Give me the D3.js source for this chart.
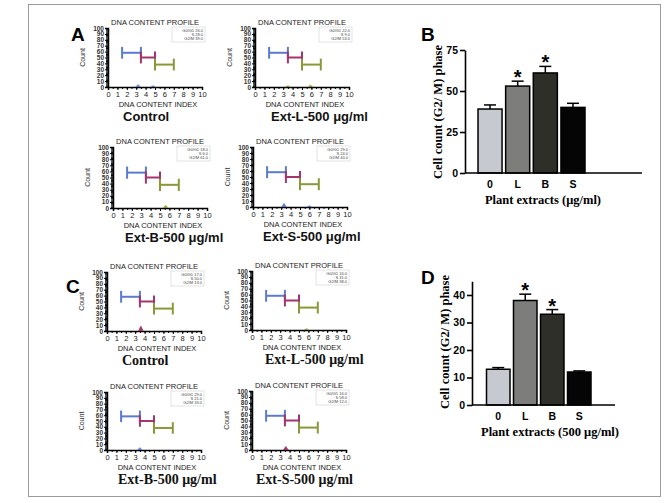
<!DOCTYPE html>
<html><head><meta charset="utf-8">
<script src="https://cdn.jsdelivr.net/npm/d3@7"></script>
<style>body{margin:0;background:#fff}svg{display:block}</style>
</head><body>
<script>
// ---------- data ----------
const phaseNames = ["G0/G1", "S", "G2/M"];
const captions = ["Control", "Ext-L-500  \u03bcg/ml", "Ext-B-500  \u03bcg/ml", "Ext-S-500  \u03bcg/ml",
                  "Control", "Ext-L-500  \u03bcg/ml", "Ext-B-500  \u03bcg/ml", "Ext-S-500  \u03bcg/ml"];
const g0g1Pct = [26, 22, 18, 29, 17, 16, 29, 16];
const sPct    = [28, 9, 6, 24, 50, 31, 21, 58];
const g2mPct  = [39, 53, 61, 40, 13, 38, 33, 12];
const markerStart = [1.5, 3.5, 5];
const markerEnd   = [3.5, 5, 7];
const markerLevel = [58, 50, 38];
const blipX = [[3.2, 4.8], [3.5, 5.9], [5.6], [3.3, 6.0], [3.6], [5.8], [3.5], [3.6]];
const blipH = [[4, 2], [2, 3], [4], [6, 2], [8], [2], [4], [6]];
const histXTicks = [0,1,2,3,4,5,6,7,8,9,10];
const histYTicks = [0,10,20,30,40,50,60,70,80,90,100];

const barCats = ["0", "L", "B", "S"];
const bValues = [39, 53, 61, 40];
const bErrors = [2.5, 3, 4, 2.5];
const dValues = [13, 38, 33, 12];
const dErrors = [0.6, 2.3, 1.7, 0.4];
const bTicks = [0, 25, 50, 75];
const dTicks = [0, 10, 20, 30, 40];
const significant = [false, true, true, false];

// ---------- setup ----------
const W = 666, H = 503;
const svg = d3.select("body").append("svg").attr("width", W).attr("height", H);
const SANS = "Liberation Sans, Arial, sans-serif";
const SERIF = "Liberation Serif, Times New Roman, serif";
svg.append("rect").attr("x", 28.5).attr("y", 4.5).attr("width", 632).attr("height", 492)
  .attr("fill", "none").attr("stroke", "#9a9a9a").attr("stroke-width", 1);

const markerColors = ["#5a7bd0", "#a2356c", "#8a9838"];
const blipColors = ["#5a7bd0", "#8a9838", "#8a9838", "#5a7bd0", "#a2356c", "#8a9838", "#5a7bd0", "#a2356c"];

// layout for small histogram panels
const smallLayout = [
  {x0:108, top:28,  bottom:87,  capX:123, serif:false},
  {x0:255, top:28,  bottom:87,  capX:271, serif:false},
  {x0:113, top:147, bottom:208, capX:125, serif:false},
  {x0:253, top:147, bottom:207, capX:263, serif:false},
  {x0:107, top:272, bottom:331, capX:122, serif:true},
  {x0:252, top:271, bottom:330, capX:265, serif:true},
  {x0:107, top:392, bottom:450, capX:118, serif:true},
  {x0:252, top:391, bottom:450, capX:256, serif:true}
];

smallLayout.forEach((L, i) => {
  const g = svg.append("g");
  const x = d3.scaleLinear().domain([0, 10]).range([L.x0, L.x0 + 94]);
  const y = d3.scaleLinear().domain([0, 100]).range([L.bottom, L.top]);

  // legend box
  g.append("rect").attr("x", x(10) - 30).attr("y", L.top - 1).attr("width", 33).attr("height", 15)
    .attr("fill", "#fff").attr("stroke", "#d0d0d0").attr("stroke-width", 0.6);
  const vals = [g0g1Pct[i], sPct[i], g2mPct[i]];
  phaseNames.forEach((p, k) => {
    g.append("text").attr("x", x(10) + 1).attr("y", L.top + 3.5 + k * 4)
      .attr("text-anchor", "end").attr("font-family", SANS).attr("font-size", 4)
      .attr("fill", "#444").text(p + " " + vals[k].toFixed(1));
  });

  // minor ticks
  const minorY = d3.axisLeft(y).tickValues(d3.range(0, 101, 2)).tickSize(2).tickFormat("");
  const gy2 = g.append("g").attr("transform", `translate(${L.x0},0)`).call(minorY);
  gy2.select(".domain").remove();
  const minorX = d3.axisBottom(x).tickValues(d3.range(0, 10.01, 0.5)).tickSize(2).tickFormat("");
  const gx2 = g.append("g").attr("transform", `translate(0,${L.bottom})`).call(minorX);
  gx2.select(".domain").remove();

  const ay = d3.axisLeft(y).tickValues(histYTicks).tickSize(3).tickPadding(1);
  const gy = g.append("g").attr("transform", `translate(${L.x0},0)`).call(ay);
  gy.selectAll("text").attr("font-family", SANS).attr("font-size", 6.5).attr("font-weight", "bold").attr("fill", "#333");
  gy.select(".domain").attr("stroke-width", 1.5);
  const ax = d3.axisBottom(x).tickValues(histXTicks).tickSize(3).tickPadding(1.5);
  const gx = g.append("g").attr("transform", `translate(0,${L.bottom})`).call(ax);
  gx.selectAll("text").attr("font-family", SANS).attr("font-size", 7.5).attr("fill", "#222");
  gx.select(".domain").attr("stroke-width", 1.5);

  // small histogram blips
  blipX[i].forEach((bx, k) => {
    const h = blipH[i][k];
    g.append("path").attr("d", `M${x(bx - 0.25)},${y(0)}L${x(bx)},${y(h)}L${x(bx + 0.25)},${y(0)}`)
      .attr("fill", blipColors[i]).attr("stroke", blipColors[i]).attr("stroke-width", 0.8);
  });

  // range markers
  markerStart.forEach((s, k) => {
    const lv = markerLevel[k];
    g.append("line").attr("x1", x(s)).attr("x2", x(markerEnd[k])).attr("y1", y(lv)).attr("y2", y(lv))
      .attr("stroke", markerColors[k]).attr("stroke-width", 2);
    [s, markerEnd[k]].forEach(v => {
      g.append("line").attr("x1", x(v)).attr("x2", x(v)).attr("y1", y(lv + 10)).attr("y2", y(lv - 10))
        .attr("stroke", markerColors[k]).attr("stroke-width", 2);
    });
  });

  // titles
  g.append("text").attr("x", L.x0 + 47).attr("y", L.top - 3.5).attr("text-anchor", "middle")
    .attr("font-family", SANS).attr("font-size", 7.5).attr("fill", "#222").text("DNA CONTENT PROFILE");
  g.append("text").attr("x", L.x0 + 50).attr("y", L.bottom + 20).attr("text-anchor", "middle")
    .attr("font-family", SANS).attr("font-size", 7.5).attr("fill", "#222").text("DNA CONTENT INDEX");
  g.append("text").attr("transform", `translate(${L.x0 - 23},${(L.top + L.bottom) / 2}) rotate(-90)`)
    .attr("text-anchor", "middle").attr("font-family", SANS).attr("font-size", 7).attr("fill", "#333").text("Count");
  g.append("text").attr("x", L.capX).attr("y", L.bottom + 33.5)
    .attr("font-family", L.serif ? SERIF : SANS).attr("font-size", L.serif ? 14 : 13)
    .attr("font-weight", "bold").attr("fill", "#111").text(captions[i]);
});

// panel letters
[["A", 71, 41], ["B", 421, 41], ["C", 66, 293], ["D", 421, 284]].forEach(([t, x, y]) => {
  svg.append("text").attr("x", x).attr("y", y).attr("font-family", SANS).attr("font-size", 19)
    .attr("font-weight", "bold").attr("fill", "#000").text(t);
});

// ---------- bar charts ----------
const barColors = ["#c7c9d0", "#7d7d7b", "#2f2f29", "#050505"];
function barChart(opt) {
  const g = svg.append("g");
  const x = d3.scaleBand().domain(barCats).range(opt.xr).paddingInner(0.13);
  const y = d3.scaleLinear().domain(opt.yd).range(opt.yr);
  g.selectAll("rect.bar").data(opt.values).join("rect").attr("class", "bar")
    .attr("x", (d, i) => x(barCats[i])).attr("width", x.bandwidth())
    .attr("y", d => y(d)).attr("height", d => y(0) - y(d))
    .attr("fill", (d, i) => barColors[i]).attr("stroke", "#000").attr("stroke-width", 1.5);
  opt.values.forEach((v, i) => {
    const cx = x(barCats[i]) + x.bandwidth() / 2;
    const top = y(v + opt.errors[i]);
    g.append("line").attr("x1", cx).attr("x2", cx).attr("y1", y(v)).attr("y2", top).attr("stroke", "#000").attr("stroke-width", 1.5);
    g.append("line").attr("x1", cx - 6).attr("x2", cx + 6).attr("y1", top).attr("y2", top).attr("stroke", "#000").attr("stroke-width", 1.5);
    if (significant[i]) {
      g.append("text").attr("x", cx).attr("y", top + 3).attr("text-anchor", "middle")
        .attr("font-family", SANS).attr("font-size", 20).attr("font-weight", "bold").text("*");
    }
    g.append("text").attr("x", cx).attr("y", opt.yr[0] + 15).attr("text-anchor", "middle")
      .attr("font-family", SANS).attr("font-size", 10.5).attr("font-weight", "bold").text(barCats[i]);
  });
  const ay = d3.axisLeft(y).tickValues(opt.ticks).tickSize(5).tickPadding(2).tickSizeOuter(0);
  const gy = g.append("g").attr("transform", `translate(${opt.xAxis},0)`).call(ay);
  gy.selectAll("text").attr("font-family", SANS).attr("font-size", 10.5).attr("font-weight", "bold").attr("fill", "#000");
  gy.selectAll("line,path").attr("stroke-width", 1.6);
  g.append("line").attr("x1", opt.xAxis).attr("x2", opt.xEnd).attr("y1", y(0)).attr("y2", y(0))
    .attr("stroke", "#000").attr("stroke-width", 1.6);
  g.append("text").attr("transform", `translate(${opt.xAxis - 23},${opt.yTitleY}) rotate(-90)`)
    .attr("text-anchor", "middle").attr("font-family", SERIF).attr("font-size", 12.5).attr("font-weight", "bold")
    .text("Cell count  (G2/  M) phase");
  g.append("text").attr("x", opt.xTitleX).attr("y", y(0) + 31).attr("text-anchor", "middle")
    .attr("font-family", SERIF).attr("font-size", 12.5).attr("font-weight", "bold").text(opt.xTitle);
}

barChart({values: bValues, errors: bErrors, ticks: bTicks, yd: [0, 75], yr: [173, 50],
  xr: [478, 585], xAxis: 465, xEnd: 642, yTitleY: 112, xTitleX: 543, xTitle: "Plant  extracts  (\u03bcg/ml)"});
barChart({values: dValues, errors: dErrors, ticks: dTicks, yd: [0, 45], yr: [405, 281.25],
  xr: [486.5, 591], xAxis: 472, xEnd: 615, yTitleY: 342, xTitleX: 550, xTitle: "Plant  extracts (500 \u03bcg/ml)"});
</script>
</body></html>
